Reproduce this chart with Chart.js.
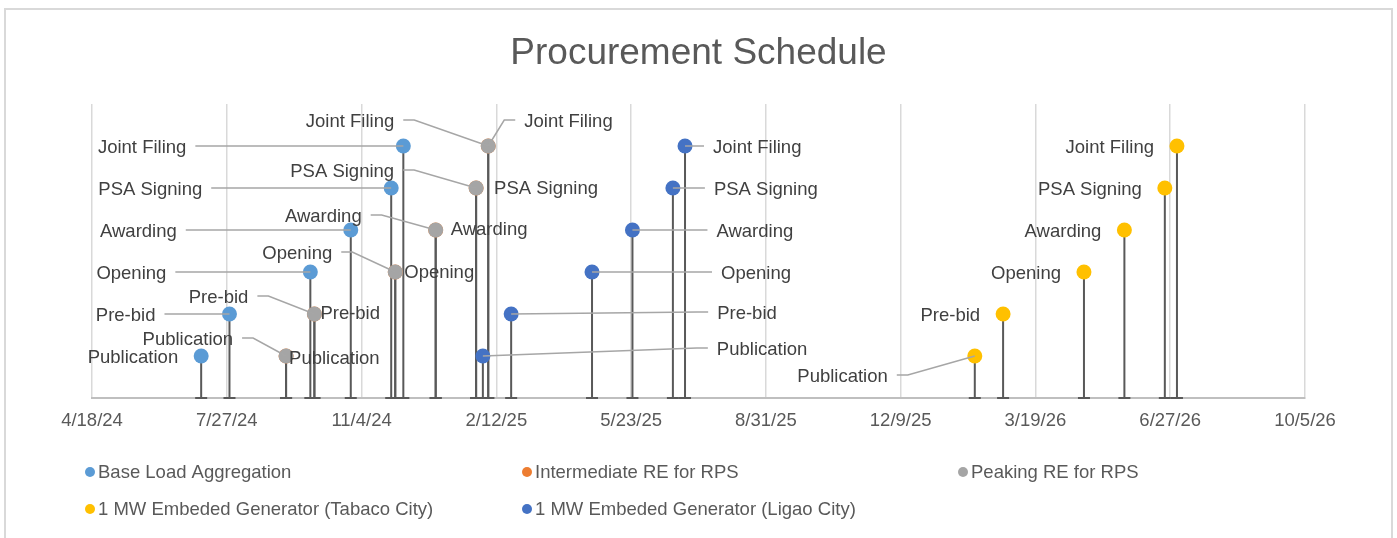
<!DOCTYPE html>
<html>
<head>
<meta charset="utf-8">
<title>Procurement Schedule</title>
<script src="https://cdn.jsdelivr.net/npm/chart.js@4.4.1/dist/chart.umd.min.js"></script>
<style>
  html, body { margin: 0; padding: 0; background: #fff; overflow: hidden; }
  #wrap { position: relative; width: 1397px; height: 538px; }
  #frame { position: absolute; left: 4px; top: 8px; width: 1389px; height: 600px; border: 2px solid #d9d9d9; box-sizing: border-box; }
  canvas { position: absolute; left: 0; top: 0; }
</style>
</head>
<body>
<div id="wrap">
  <div id="frame"></div>
  <canvas id="scheduleChart" width="1397" height="538"></canvas>
</div>
<script>
// data
const stageNames = ["Publication", "Pre-bid", "Opening", "Awarding", "PSA Signing", "Joint Filing"];
const stageLevels = [1, 2, 3, 4, 5, 6];

const baseLoadDates = ["2024-07-08", "2024-07-29", "2024-09-27", "2024-10-27", "2024-11-26", "2024-12-05"];
const intermediateDates = ["2024-09-09", "2024-09-30", "2024-11-29", "2024-12-29", "2025-01-28", "2025-02-06"];
const peakingDates = ["2024-09-09", "2024-09-30", "2024-11-29", "2024-12-29", "2025-01-28", "2025-02-06"];
const tabacoDates = ["2026-02-02", "2026-02-23", "2026-04-24", "2026-05-24", "2026-06-23", "2026-07-02"];
const ligaoDates = ["2025-02-02", "2025-02-23", "2025-04-24", "2025-05-24", "2025-06-23", "2025-07-02"];

const seriesNames = [
  "Base Load Aggregation",
  "Intermediate RE for RPS",
  "Peaking RE for RPS",
  "1 MW Embeded Generator (Tabaco City)",
  "1 MW Embeded Generator (Ligao City)"
];
const seriesColors = ["#5b9bd5", "#ed7d31", "#a5a5a5", "#ffc000", "#4472c4"];

const axisDates = ["2024-04-18", "2024-07-27", "2024-11-04", "2025-02-12", "2025-05-23",
  "2025-08-31", "2025-12-09", "2026-03-19", "2026-06-27", "2026-10-05"];

// label placement next to each marker: [dx, dy, side, leader line]
const labelSpots = [
  [[-23, 0, "L", false], [-74, 0, "L", true], [-144, 0, "L", true], [-174, 0, "L", true], [-189, 0, "L", true], [-217, 0, "L", true]],
  [[-53, -18, "L", true], [-66, -18, "L", true], [-63, -20, "L", true], [-74, -15, "L", true], [-82, -18, "L", true], [-94, -26, "L", true]],
  [[3, 1, "R", false], [6, -2, "R", false], [9, -1, "R", false], [15, -2, "R", false], [18, -1, "R", false], [36, -26, "R", true]],
  [[-87, 19, "L", true], [-23, 0, "L", false], [-23, 0, "L", false], [-23, 0, "L", false], [-23, 0, "L", false], [-23, 0, "L", false]],
  [[234, -8, "R", true], [206, -2, "R", true], [129, 0, "R", true], [84, 0, "R", true], [41, 0, "R", true], [28, 0, "R", true]]
];
const legendSpots = [[90, 472], [527, 472], [963, 472], [90, 509], [527, 509]];

const DAY = 86400000;
function toDay(iso) {
  const [y, m, d] = iso.split("-").map(Number);
  return Date.UTC(y, m - 1, d) / DAY;
}
function fmtDay(v) {
  const dt = new Date(v * DAY);
  return `${dt.getUTCMonth() + 1}/${dt.getUTCDate()}/${String(dt.getUTCFullYear()).slice(2)}`;
}
function points(dates) {
  return dates.map((d, i) => ({ x: toDay(d), y: stageLevels[i] }));
}

const FONT = "'Liberation Sans', Arial, sans-serif";
Chart.defaults.font.family = FONT;

// drop lines down to the axis, with a small cap
const stemPlugin = {
  id: "stems",
  beforeDatasetsDraw(chart) {
    const { ctx } = chart;
    const base = chart.scales.y.getPixelForValue(0);
    ctx.save();
    ctx.strokeStyle = "#595959";
    ctx.lineWidth = 2;
    chart.data.datasets.forEach((ds, i) => {
      chart.getDatasetMeta(i).data.forEach((pt) => {
        ctx.beginPath();
        ctx.moveTo(pt.x, pt.y);
        ctx.lineTo(pt.x, base);
        ctx.moveTo(pt.x - 6, base);
        ctx.lineTo(pt.x + 6, base);
        ctx.stroke();
      });
    });
    ctx.restore();
  }
};

// stage labels + leader lines
const labelPlugin = {
  id: "stageLabels",
  afterDatasetsDraw(chart) {
    const { ctx } = chart;
    ctx.save();
    ctx.font = `18.5px ${FONT}`;
    ctx.textBaseline = "middle";
    ctx.strokeStyle = "#a6a6a6";
    ctx.lineWidth = 1.5;
    chart.data.datasets.forEach((ds, i) => {
      chart.getDatasetMeta(i).data.forEach((pt, j) => {
        const [dx, dy, side, leader] = labelSpots[i][j];
        const tx = pt.x + dx;
        const ty = pt.y + dy;
        if (leader) {
          const dir = side === "L" ? 1 : -1;
          const sx = tx + dir * 9;
          ctx.beginPath();
          ctx.moveTo(sx, ty);
          ctx.lineTo(sx + dir * 11, ty);
          ctx.lineTo(pt.x, pt.y);
          ctx.stroke();
        }
        ctx.textAlign = side === "L" ? "right" : "left";
        ctx.fillStyle = "#404040";
        ctx.fillText(stageNames[j], tx, ty + 1.5);
      });
    });
    ctx.restore();
  }
};

// legend in a 3-column grid
const gridLegend = {
  id: "gridLegend",
  afterDraw(chart) {
    const { ctx } = chart;
    ctx.save();
    ctx.font = `18.5px ${FONT}`;
    ctx.textBaseline = "middle";
    ctx.textAlign = "left";
    chart.data.datasets.forEach((ds, i) => {
      const [lx, ly] = legendSpots[i];
      ctx.fillStyle = ds.backgroundColor;
      ctx.beginPath();
      ctx.arc(lx, ly, 5, 0, Math.PI * 2);
      ctx.fill();
      ctx.fillStyle = "#595959";
      ctx.fillText(ds.label, lx + 8, ly + 1);
    });
    ctx.restore();
  }
};

const allDates = [baseLoadDates, intermediateDates, peakingDates, tabacoDates, ligaoDates];
const drawOrder = [5, 4, 3, 2, 1];

const datasets = allDates.map((dates, i) => ({
  label: seriesNames[i],
  data: points(dates),
  backgroundColor: seriesColors[i],
  borderColor: seriesColors[i],
  borderWidth: 0,
  pointRadius: 7.5,
  pointHoverRadius: 7.5,
  showLine: false,
  order: drawOrder[i]
}));

const ctx = document.getElementById("scheduleChart").getContext("2d");
new Chart(ctx, {
  type: "scatter",
  data: { datasets },
  options: {
    responsive: false,
    animation: false,
    events: [],
    layout: { padding: { left: 92, right: 92, top: 0, bottom: 0 } },
    plugins: {
      legend: { display: false },
      tooltip: { enabled: false },
      title: {
        display: true,
        text: "Procurement Schedule",
        color: "#595959",
        font: { size: 37, weight: "normal", family: FONT },
        padding: { top: 31.5, bottom: 28.1 }
      }
    },
    scales: {
      x: {
        type: "linear",
        min: toDay(axisDates[0]),
        max: toDay(axisDates[axisDates.length - 1]),
        afterBuildTicks: (scale) => {
          scale.ticks = axisDates.map((d) => ({ value: toDay(d) }));
        },
        afterFit: (scale) => {
          scale.height = 140;
        },
        grid: { color: "#d9d9d9", lineWidth: 1.5, drawTicks: false },
        border: { color: "#bfbfbf", width: 2 },
        ticks: {
          color: "#595959",
          font: { size: 18.5 },
          padding: 12,
          maxRotation: 0,
          autoSkip: false,
          callback: (v) => fmtDay(v)
        }
      },
      y: { display: false, min: 0, max: 7 }
    }
  },
  plugins: [stemPlugin, labelPlugin, gridLegend]
});
</script>
</body>
</html>
